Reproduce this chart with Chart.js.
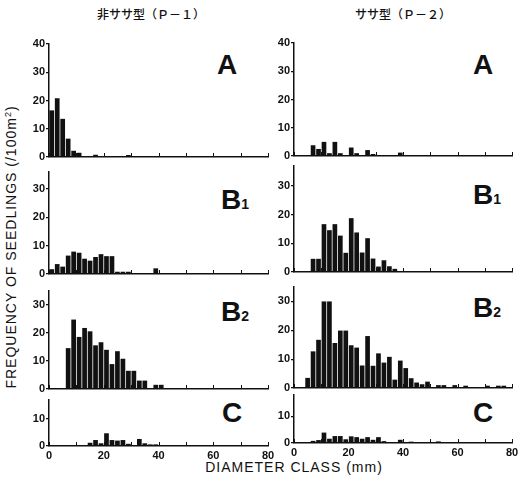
<!DOCTYPE html>
<html>
<head>
<meta charset="utf-8">
<script src="https://cdn.jsdelivr.net/npm/chart.js@4.4.1/dist/chart.umd.min.js"></script>
<style>
body { margin: 0; background: #fff; width: 521px; height: 487px; position: relative; overflow: hidden;
       font-family: "Liberation Sans", Arial, sans-serif; color: #111; }
canvas { position: absolute; }
.txt { position: absolute; white-space: nowrap; }
.jp { font-family: "Noto Sans CJK JP", sans-serif; font-size: 12px; font-weight: 500; top: 5px; }
.letter { font-weight: bold; font-size: 28px; line-height: 1; font-family: "Liberation Sans Narrow", "Liberation Sans", Arial, sans-serif; }
.letter span { font-size: 14px; }
.axis-title { font-size: 14px; letter-spacing: 1px; }
</style>
</head>
<body>

<div class="txt jp" style="left:97px">非ササ型（Ｐ－１）</div>
<div class="txt jp" style="left:355px">ササ型（Ｐ－２）</div>

<div class="txt axis-title" style="left:11px; top:247px; transform:translate(-50%,-50%) rotate(-90deg)">FREQUENCY OF SEEDLINGS (/100m<sup style="font-size:9px">2</sup>)</div>
<div class="txt axis-title" style="left:294px; top:467px; transform:translate(-50%,-50%)">DIAMETER CLASS (mm)</div>

<div class="txt letter" style="left:217px; top:51px">A</div>
<div class="txt letter" style="left:473px; top:51px">A</div>
<div class="txt letter" style="left:221px; top:186px">B<span>1</span></div>
<div class="txt letter" style="left:473px; top:181px">B<span>1</span></div>
<div class="txt letter" style="left:221px; top:298px">B<span>2</span></div>
<div class="txt letter" style="left:473px; top:294px">B<span>2</span></div>
<div class="txt letter" style="left:222px; top:399px">C</div>
<div class="txt letter" style="left:473px; top:399px">C</div>

<script>
// -----------------------------------------------------------
// DATA  (seedlings / 100 m2 per 2 mm diameter class)
// -----------------------------------------------------------

// class mid-points, mm
const diameterClasses = [1, 3, 5, 7, 9, 11, 13, 15, 17, 19,
                         21, 23, 25, 27, 29, 31, 33, 35, 37, 39,
                         41, 43, 45, 47, 49, 51, 53, 55, 57, 59,
                         61, 63, 65, 67, 69, 71, 73, 75, 77, 79];

const xTicks = [0, 10, 20, 30, 40, 50, 60, 70, 80];
const xTickLabels = [0, 20, 40, 60, 80];
const yTicksA = [0, 10, 20, 30, 40];
const yTicksB = [0, 10, 20, 30];
const yTicksC = [0, 10];

// 非ササ型 (P-1)
const nonSasaA = [16.5, 20.8, 13.5, 6.5, 2.2, 1.5, 0, 0, 0.8, 0,
                  0, 0, 0, 0, 0.7, 0, 0, 0, 0, 0,
                  0, 0, 0, 0, 0, 0, 0, 0, 0, 0,
                  0, 0, 0, 0, 0, 0, 0, 0, 0, 0];
const nonSasaB1 = [1.7, 3.5, 2.6, 6.5, 7.9, 7.5, 5.4, 4.7, 6, 7,
                   6.3, 6.3, 0.8, 0.8, 0.8, 0, 0, 0, 0, 2,
                   0, 0, 0, 0, 0, 0, 0, 0, 0, 0,
                   0, 0, 0, 0, 0, 0, 0, 0, 0, 0];
const nonSasaB2 = [0.3, 0.3, 0, 14.6, 24.8, 18.6, 21.8, 20.6, 15.6, 16.7,
                   14, 8.9, 13.5, 10.8, 6.5, 6.5, 3, 3, 0, 1.5,
                   1.5, 0, 0, 0, 0, 0.3, 0.3, 0.3, 0, 0,
                   0, 0, 0, 0, 0, 0, 0, 0, 0, 0];
const nonSasaC = [0, 0, 0.3, 0.3, 0.3, 0, 0, 1.2, 2.2, 1,
                  4.7, 2.2, 2, 2.2, 0.8, 0, 2.6, 1, 0.6, 0.6,
                  0, 0, 0, 0, 0, 0, 0, 0, 0, 0,
                  0, 0, 0, 0, 0, 0, 0, 0, 0, 0];

// ササ型 (P-2)
const sasaA = [0, 0, 0, 3.8, 2.5, 5, 1, 5, 1, 0,
               3, 1, 0, 2.1, 0.7, 0, 0, 0, 0, 1.2,
               0, 0, 0, 0, 0, 0, 0, 0, 0, 0,
               0, 0.3, 0.3, 0.3, 0.3, 0.3, 0.3, 0.3, 0.3, 0];
const sasaB1 = [0, 0, 0, 4.6, 4.6, 16.7, 14.6, 16.7, 12.7, 6.7,
                18.8, 13.8, 6.8, 11.8, 4.7, 1.9, 4.1, 2, 1.1, 0,
                0, 0, 0, 0, 0, 0, 0, 0, 0, 0,
                0, 0, 0, 0, 0, 0.3, 0.3, 0.3, 0, 0];
const sasaB2 = [0, 0, 3.5, 12.7, 16.7, 30, 30, 15.6, 19.9, 19.9,
                14.8, 14, 7.8, 18, 7.7, 12, 8.8, 10.8, 2.9, 9.5,
                6.9, 3.4, 1.9, 1.3, 2.2, 0, 1, 1, 0, 1,
                0, 0.8, 0, 0, 0, 0.8, 0, 0.8, 0.8, 0];
const sasaC = [0, 0, 0, 0.8, 1.1, 3.9, 1.6, 2.6, 2.6, 1.4,
               2.5, 2.2, 1.6, 2.2, 1.2, 2.2, 0.7, 0, 0, 1.2,
               0, 0.5, 0, 0, 0, 0, 0.6, 0, 0, 0,
               0, 0, 0, 0, 0, 0, 0, 0, 0, 0];

// -----------------------------------------------------------
// PANELS  (plot box in page pixels)
// -----------------------------------------------------------
const INK = '#111';
const tickFont = { family: '"Liberation Sans", Arial, sans-serif', size: 11, weight: 'bold' };
const Y_W = 30, PAD_T = 10, PAD_R = 10;

// small upward tick marks on the diameter axis
const innerTicks = {
    id: 'innerTicks',
    afterDraw(chart) {
        const sx = chart.scales.x, ctx = chart.ctx;
        const base = chart.chartArea.bottom;
        ctx.save();
        ctx.strokeStyle = INK;
        ctx.lineWidth = 1;
        xTicks.forEach(v => {
            const px = Math.round(sx.getPixelForValue(v)) + 0.5;
            ctx.beginPath();
            ctx.moveTo(px, base);
            ctx.lineTo(px, base - 4);
            ctx.stroke();
        });
        ctx.restore();
    }
};

function makePanel(values, yMax, yTicks, box, bottom) {
    const hx = bottom ? 18 : 2;
    const pb = bottom ? 2 : 8;
    const canvas = document.createElement('canvas');
    canvas.width = (box.x1 - box.x0) + Y_W + PAD_R;
    canvas.height = (box.y1 - box.y0) + PAD_T + hx + pb;
    canvas.style.left = (box.x0 - Y_W) + 'px';
    canvas.style.top = (box.y0 - PAD_T) + 'px';
    document.body.appendChild(canvas);

    new Chart(canvas, {
        type: 'bar',
        data: {
            datasets: [{
                data: diameterClasses.map((x, i) => ({ x: x, y: values[i] })),
                backgroundColor: INK,
                borderWidth: 0,
                barPercentage: 0.86,
                categoryPercentage: 1
            }]
        },
        options: {
            responsive: false,
            animation: false,
            devicePixelRatio: 1,
            layout: { padding: { left: 0, top: PAD_T, right: PAD_R, bottom: pb } },
            plugins: { legend: { display: false }, tooltip: { enabled: false } },
            scales: {
                x: {
                    type: 'linear', min: 0, max: 80, offset: false,
                    afterBuildTicks: s => { s.ticks = xTicks.map(v => ({ value: v })); },
                    afterFit: s => { s.height = hx; },
                    grid: { offset: false, drawOnChartArea: false, drawTicks: false, color: INK },
                    border: { display: true, color: INK, width: 1.5 },
                    ticks: {
                        display: bottom, padding: 3, color: INK, font: tickFont, maxRotation: 0,
                        callback: v => xTickLabels.includes(v) ? String(v) : ''
                    }
                },
                y: {
                    min: 0, max: yMax,
                    afterBuildTicks: s => { s.ticks = yTicks.map(v => ({ value: v })); },
                    afterFit: s => { s.width = Y_W; },
                    grid: { drawOnChartArea: false, drawTicks: true, tickLength: 3, color: INK, lineWidth: 1.2 },
                    border: { display: true, color: INK, width: 1.5 },
                    ticks: { padding: 1, color: INK, font: tickFont }
                }
            }
        },
        plugins: [innerTicks]
    });
}

makePanel(nonSasaA,  40, yTicksA, { x0: 49,  x1: 268, y0: 44,  y1: 157 }, false);
makePanel(sasaA,     40, yTicksA, { x0: 294, x1: 512, y0: 43,  y1: 156 }, false);
makePanel(nonSasaB1, 36, yTicksB, { x0: 49,  x1: 268, y0: 172, y1: 274 }, false);
makePanel(sasaB1,    37, yTicksB, { x0: 294, x1: 512, y0: 166, y1: 272 }, false);
makePanel(nonSasaB2, 35, yTicksB, { x0: 49,  x1: 268, y0: 291, y1: 389 }, false);
makePanel(sasaB2,    35, yTicksB, { x0: 294, x1: 512, y0: 287, y1: 388 }, false);
makePanel(nonSasaC,  17, yTicksC, { x0: 49,  x1: 268, y0: 400, y1: 446 }, true);
makePanel(sasaC,     18, yTicksC, { x0: 294, x1: 512, y0: 395, y1: 443 }, true);
</script>
</body>
</html>
